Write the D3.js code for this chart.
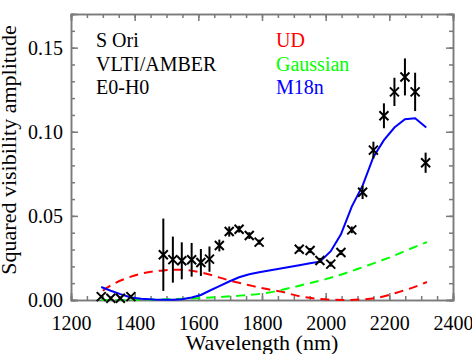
<!DOCTYPE html>
<html>
<head>
<meta charset="utf-8">
<script src="https://cdn.jsdelivr.net/npm/d3@7"></script>
<style>
  body { margin: 0; background: #fff; }
  svg text { font-family: "Liberation Serif", "Times New Roman", serif; }
  .axis path, .axis line { stroke: #7a7a7a; stroke-width: 1.5; }
  .axis text { fill: #000; font-size: 20px; }
</style>
</head>
<body>
<div id="chart"></div>
<script>
// observed points
const obsWl = [1295, 1325, 1355, 1388, 1490, 1520, 1548, 1579, 1608, 1635, 1666, 1697, 1728, 1760, 1791,
               1917, 1951, 1982, 2016, 2048, 2082, 2116, 2150, 2183, 2216, 2249, 2281, 2314];
const obsV2 = [0.002, 0.001, 0.001, 0.002, 0.0269, 0.0240, 0.0233, 0.0239, 0.0223, 0.0243, 0.0324, 0.0407, 0.0421, 0.0383, 0.0344,
               0.0302, 0.0294, 0.0235, 0.0213, 0.0282, 0.0417, 0.0640, 0.0891, 0.1095, 0.1237, 0.1326, 0.1237, 0.0816];
const obsErr = [0.001, 0.001, 0.001, 0.001, 0.0215, 0.0137, 0.011, 0.010, 0.008, 0.0075, 0.0035, 0.003, 0.002, 0.002, 0.0015,
                0.0015, 0.0015, 0.0015, 0.0015, 0.0015, 0.002, 0.004, 0.005, 0.0074, 0.0084, 0.011, 0.0114, 0.006];

// uniform disk model
const udWl = [1300, 1330, 1375, 1420, 1490, 1543, 1616, 1700, 1760, 1815, 1860, 1920, 1970, 2014, 2066, 2110, 2160, 2234, 2280, 2318];
const udV2 = [0.0055, 0.0092, 0.0130, 0.0156, 0.0176, 0.0180, 0.0160, 0.0115, 0.0088, 0.0065, 0.0050, 0.0021, 0.0008, 0.0002, 0.0, 0.0003, 0.0012, 0.0050, 0.0078, 0.0107];

// gaussian model
const gaussWl = [1295, 1400, 1500, 1605, 1731, 1800, 1850, 1900, 1950, 2000, 2050, 2100, 2150, 2200, 2250, 2318];
const gaussV2 = [0.0, 0.0001, 0.0004, 0.0012, 0.0026, 0.0038, 0.0055, 0.0077, 0.0100, 0.0124, 0.0152, 0.0184, 0.0218, 0.0252, 0.0292, 0.0344];

// M18n model
const m18Wl = [1295, 1325, 1355, 1388, 1420, 1460, 1490, 1520, 1548, 1579, 1608, 1635, 1666, 1697, 1728, 1760, 1791,
               1917, 1951, 1982, 2016, 2048, 2082, 2116, 2150, 2183, 2216, 2249, 2281, 2316];
const m18V2 = [0.0077, 0.0055, 0.0035, 0.0015, 0.0008, 0.0003, 0.0001, 0.0002, 0.0005, 0.0015, 0.003, 0.0055, 0.0082, 0.011, 0.0135, 0.0153, 0.0165,
               0.0206, 0.0218, 0.0228, 0.029, 0.039, 0.0555, 0.068, 0.085, 0.095, 0.1025, 0.1075, 0.108, 0.1025];

const xTicks = [1200, 1400, 1600, 1800, 2000, 2200, 2400];
const yTicks = [0.00, 0.05, 0.10, 0.15];

const labelsLeft = ["S Ori", "VLTI/AMBER", "E0-H0"];
const labelsRight = [{ text: "UD", color: "#ff0000" }, { text: "Gaussian", color: "#00ff00" }, { text: "M18n", color: "#0000ff" }];

const FONT = '"Liberation Serif", "Times New Roman", serif';

const W = 472, H = 354;
const margin = { top: 14, right: 19, bottom: 54, left: 71 };
const width = W - margin.left - margin.right;
const height = H - margin.top - margin.bottom;

const svg = d3.select("#chart").append("svg")
    .attr("width", W)
    .attr("height", H);

const g = svg.append("g")
    .attr("transform", `translate(${margin.left},${margin.top})`);

const x = d3.scaleLinear().domain([1200, 2400]).range([0, width]);
const y = d3.scaleLinear().domain([0, 0.17]).range([height, 0]);

const xMinor = d3.range(1200, 2401, 50);
const yMinor = d3.range(0, 0.1701, 0.01);

// minor ticks on all sides
g.append("g").attr("class", "axis").attr("transform", `translate(0,${height})`)
    .call(d3.axisBottom(x).tickValues(xMinor).tickSize(-4).tickFormat(""));
g.append("g").attr("class", "axis")
    .call(d3.axisTop(x).tickValues(xMinor).tickSize(-4).tickFormat(""));
g.append("g").attr("class", "axis")
    .call(d3.axisLeft(y).tickValues(yMinor).tickSize(-4).tickFormat(""));
g.append("g").attr("class", "axis").attr("transform", `translate(${width},0)`)
    .call(d3.axisRight(y).tickValues(yMinor).tickSize(-4).tickFormat(""));

// major ticks
g.append("g").attr("class", "axis").attr("transform", `translate(0,${height})`)
    .call(d3.axisBottom(x).tickValues(xTicks).tickSize(-7).tickPadding(16).tickFormat(d3.format("d")))
    .attr("font-family", FONT)
    .call(a => a.selectAll("text").attr("dy", "0.71em"));
g.append("g").attr("class", "axis")
    .call(d3.axisTop(x).tickValues(xTicks).tickSize(-7).tickFormat(""));
g.append("g").attr("class", "axis")
    .call(d3.axisLeft(y).tickValues(yTicks).tickSize(-7).tickPadding(8).tickFormat(d3.format(".2f")))
    .attr("font-family", FONT);
g.append("g").attr("class", "axis").attr("transform", `translate(${width},0)`)
    .call(d3.axisRight(y).tickValues(yTicks).tickSize(-7).tickFormat(""));

// axis titles
svg.append("text")
    .attr("x", margin.left + width / 2)
    .attr("y", 350)
    .attr("text-anchor", "middle")
    .attr("font-family", FONT)
    .style("font-size", "22px")
    .text("Wavelength (nm)");

svg.append("text")
    .attr("transform", "translate(16,150) rotate(-90)")
    .attr("text-anchor", "middle")
    .attr("font-family", FONT)
    .style("font-size", "22px")
    .text("Squared visibility amplitude");

// model curves
const curve = (wl, v) => d3.line()
    .x((d, i) => x(wl[i]))
    .y(d => y(d))(v);
const smooth = (wl, v) => d3.line()
    .curve(d3.curveMonotoneX)
    .x((d, i) => x(wl[i]))
    .y(d => y(d))(v);

g.append("path")
    .attr("d", smooth(udWl, udV2))
    .attr("fill", "none")
    .attr("stroke", "#ff0000")
    .attr("stroke-width", 2)
    .attr("stroke-dasharray", "9,6");

g.append("path")
    .attr("d", smooth(gaussWl, gaussV2))
    .attr("fill", "none")
    .attr("stroke", "#00ff00")
    .attr("stroke-width", 2)
    .attr("stroke-dasharray", "9,6");

g.append("path")
    .attr("d", curve(m18Wl, m18V2))
    .attr("fill", "none")
    .attr("stroke", "#0000ff")
    .attr("stroke-width", 2);

// error bars and crosses
const obs = obsWl.map((w, i) => ({ w: w, v: obsV2[i], e: obsErr[i] }));

g.selectAll(".err")
    .data(obs)
    .enter().append("line")
    .attr("x1", d => x(d.w))
    .attr("x2", d => x(d.w))
    .attr("y1", d => y(d.v - d.e))
    .attr("y2", d => y(d.v + d.e))
    .attr("stroke", "#000")
    .attr("stroke-width", 2);

const s = 4.5;
g.selectAll(".cross")
    .data(obs)
    .enter().append("path")
    .attr("d", d => {
        const cx = x(d.w), cy = y(d.v);
        return `M${cx - s},${cy - s}L${cx + s},${cy + s}M${cx - s},${cy + s}L${cx + s},${cy - s}`;
    })
    .attr("stroke", "#000")
    .attr("stroke-width", 2)
    .attr("fill", "none");

// labels
svg.selectAll(".lbl-left")
    .data(labelsLeft)
    .enter().append("text")
    .attr("x", 96)
    .attr("y", (d, i) => 47 + i * 23.5)
    .attr("font-family", FONT)
    .style("font-size", "20px")
    .text(d => d);

svg.selectAll(".lbl-right")
    .data(labelsRight)
    .enter().append("text")
    .attr("x", 276)
    .attr("y", (d, i) => 47 + i * 23.5)
    .attr("font-family", FONT)
    .style("font-size", "20px")
    .attr("fill", d => d.color)
    .text(d => d.text);
</script>
</body>
</html>
